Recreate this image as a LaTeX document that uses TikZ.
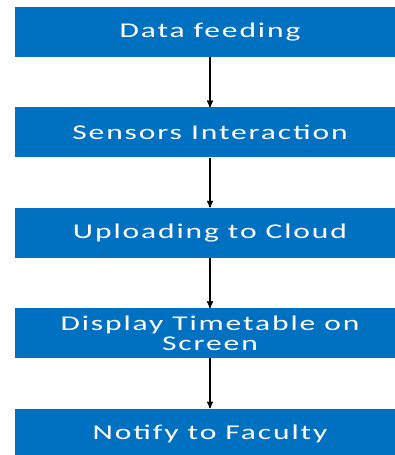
\documentclass[tikz,border=0pt]{standalone}
\usepackage{fontspec}
\setmainfont{Carlito}
\newfontfamily\stepfont[FakeStretch=1.5, LetterSpace=9]{Carlito}
\usetikzlibrary{arrows, positioning}
\definecolor{my_blue}{RGB}{0, 112, 192}
\tikzset {
  stepbox/.style = {rectangle, fill=my_blue, text=white, text centered, align=center, minimum width=390pt, minimum height=50pt, inner sep=0pt, font=\stepfont\fontsize{21}{20.5}\selectfont},
  line/.style = {->, line width=1.4pt, color=black, >=stealth'},
}

\begin{document}
\begin{tikzpicture}[x=1pt, y=1pt, node distance=50pt]
    \useasboundingbox (0,0) rectangle (395,-455);

    \node[stepbox, name=feeding] (feeding) at (210,-32) {Data feeding};
    \node[stepbox, name=sensors, below=of feeding] (sensors) {Sensors Interaction};
    \node[stepbox, name=cloud, below=of sensors] (cloud) {Uploading to Cloud};
    \node[stepbox, name=display, below=of cloud] (display) {Display Timetable on\\Screen};
    \node[stepbox, name=notify, below=of display] (notify) {Notify to Faculty};

    \draw[line] (feeding) -- (sensors);
    \draw[line] (sensors) -- (cloud);
    \draw[line] (cloud) -- (display);
    \draw[line] (display) -- (notify);

\end{tikzpicture}
\end{document}
